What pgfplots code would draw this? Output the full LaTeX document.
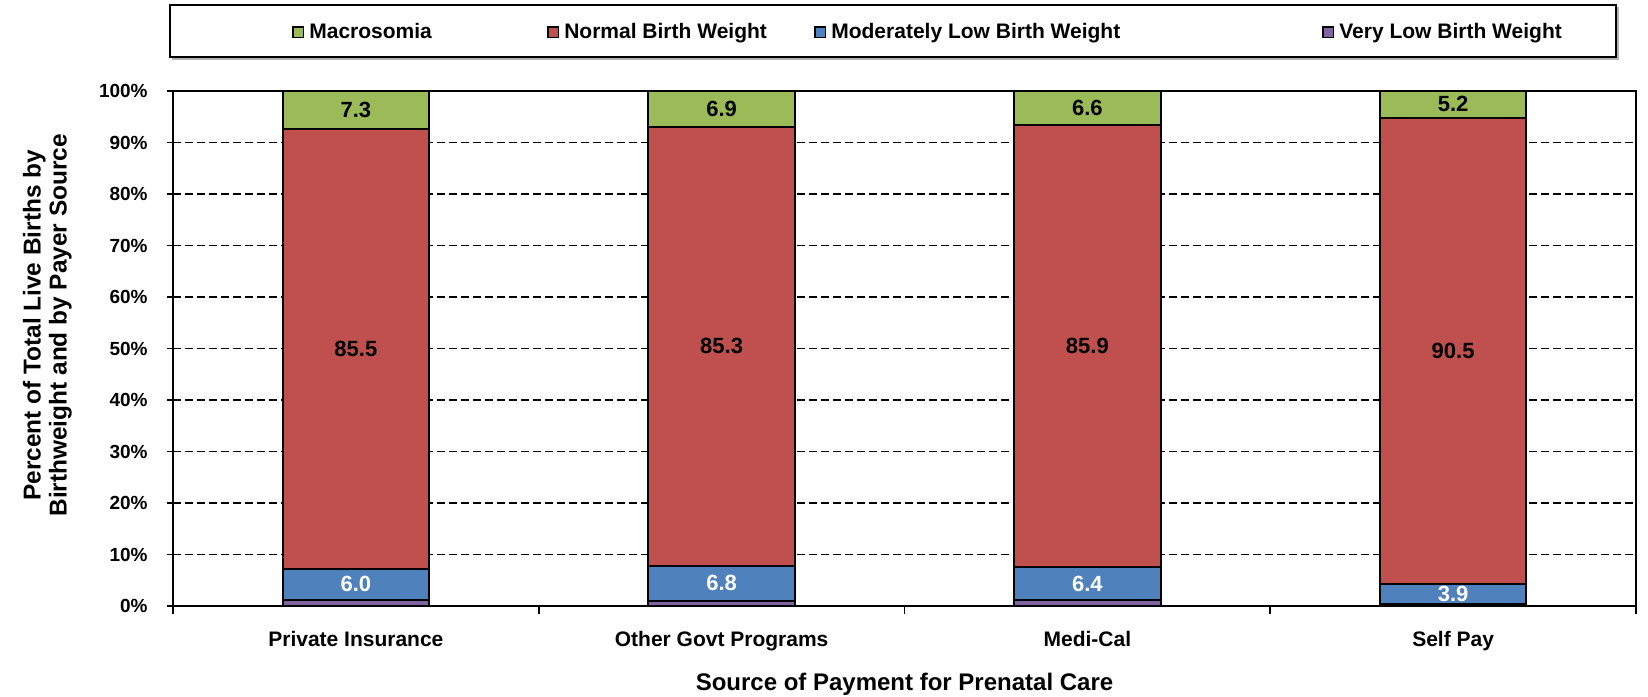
\documentclass[border=0pt]{standalone}
\usepackage{fontspec}
\setmainfont{Liberation Sans}
\usepackage{pgfplots}
\usepackage{pgfplotstable}
\pgfplotsset{compat=1.18}
\definecolor{macgreen}{HTML}{9BBB59}
\definecolor{nbwred}{HTML}{C0504D}
\definecolor{mlbwblue}{HTML}{4F81BD}
\definecolor{vlbwpurple}{HTML}{8064A2}

% percent of births by payer source (bottom to top of each bar)
\pgfplotstableread{
x vlbw mlbw nbw mac
0 1.2 6.0 85.5 7.3
1 1.0 6.8 85.3 6.9
2 1.1 6.4 85.9 6.6
3 0.4 3.9 90.5 5.2
}\bwdata

\begin{document}
\begin{tikzpicture}
\begin{axis}[
  scale only axis, width=731.5pt, height=257.5pt,
  ybar stacked, bar width=0.4,
  xmin=-0.5, xmax=3.5, ymin=0, ymax=100,
  xtick={0,1,2,3},
  xticklabels={Private Insurance, Other Govt Programs, Medi-Cal, Self Pay},
  minor xtick={-0.5,0.5,1.5,2.5,3.5},
  ytick={0,10,...,100},
  yticklabels={0\%,10\%,20\%,30\%,40\%,50\%,60\%,70\%,80\%,90\%,100\%},
  tick align=outside, xtick pos=bottom, ytick pos=left,
  major tick length=3pt, minor tick length=4pt,
  major x tick style={draw=none},
  tick style={black, line width=0.8pt},
  axis line style={black, line width=1.2pt},
  ymajorgrids,
  major grid style={black, line width=0.9pt, dash pattern=on 4pt off 2pt},
  /pgf/number format/assume math mode=true,
  yticklabel style={anchor=east, inner sep=0pt, xshift=-9.5pt, font=\fontsize{9.5}{11.5}\selectfont\bfseries},
  xticklabel style={anchor=base, inner sep=0pt, yshift=-17.3pt, font=\fontsize{10.5}{12.6}\selectfont\bfseries},
  xlabel={Source of Payment for Prenatal Care},
  xlabel style={at={(axis description cs:0.5,0)}, anchor=base, yshift=-42pt, font=\fontsize{12}{14}\selectfont\bfseries},
  ylabel={Percent of Total Live Births by\\Birthweight and by Payer Source},
  ylabel style={at={(axis description cs:-0.0858,0.545)}, anchor=center, align=center, font=\fontsize{12.2}{13}\selectfont\bfseries},
  legend columns=4, reverse legend,
  legend style={at={(axis description cs:0.0813,1.1136)}, anchor=west, draw=none, fill=none, inner sep=0pt,
    nodes={inner xsep=0pt, inner ysep=1pt},
    font=\fontsize{10.5}{12.6}\selectfont\bfseries,
    /tikz/every odd column/.append style={column sep=2.5pt},
    /tikz/every even column/.append style={column sep=0pt}},
  legend cell align=left,
  legend image code/.code={\draw[#1, draw=black, line width=0.8pt] (0pt,-2.6pt) rectangle (5.2pt,2.6pt);},
  every axis plot/.append style={draw=black, line width=1pt},
  segment label/.style={point meta=explicit,
    nodes near coords={\pgfmathprintnumber[fixed, fixed zerofill, precision=1]{\pgfplotspointmeta}},
    every node near coord/.append style={anchor=center, font=\fontsize{11}{13}\selectfont\bfseries}},
]
\addplot[fill=vlbwpurple] table[x=x, y=vlbw] {\bwdata};
\addlegendentry{Very Low Birth Weight}
\addplot[fill=mlbwblue, segment label,
  every node near coord/.append style={white}] table[x=x, y=mlbw, meta=mlbw] {\bwdata};
\addlegendentry{\makebox[245.5pt][l]{Moderately Low Birth Weight}}
\addplot[fill=nbwred, segment label,
  every node near coord/.append style={black}] table[x=x, y=nbw, meta=nbw] {\bwdata};
\addlegendentry{\makebox[125pt][l]{Normal Birth Weight}}
\addplot[fill=macgreen, segment label,
  every node near coord/.append style={black}] table[x=x, y=mac, meta=mac] {\bwdata};
\addlegendentry{\makebox[119pt][l]{Macrosomia}}
\end{axis}
% legend frame with a light shadow
\draw[gray!60, line width=1pt] (-0.3pt,273.3pt) -- (722.7pt,273.3pt) -- (722.7pt,299.5pt);
\draw[black, line width=1.2pt] (-1.5pt,274.5pt) rectangle (721.5pt,300.5pt);
\pgfresetboundingbox
\path (-86.5pt,-45pt) rectangle (737.5pt,303pt);
\end{tikzpicture}
\end{document}
